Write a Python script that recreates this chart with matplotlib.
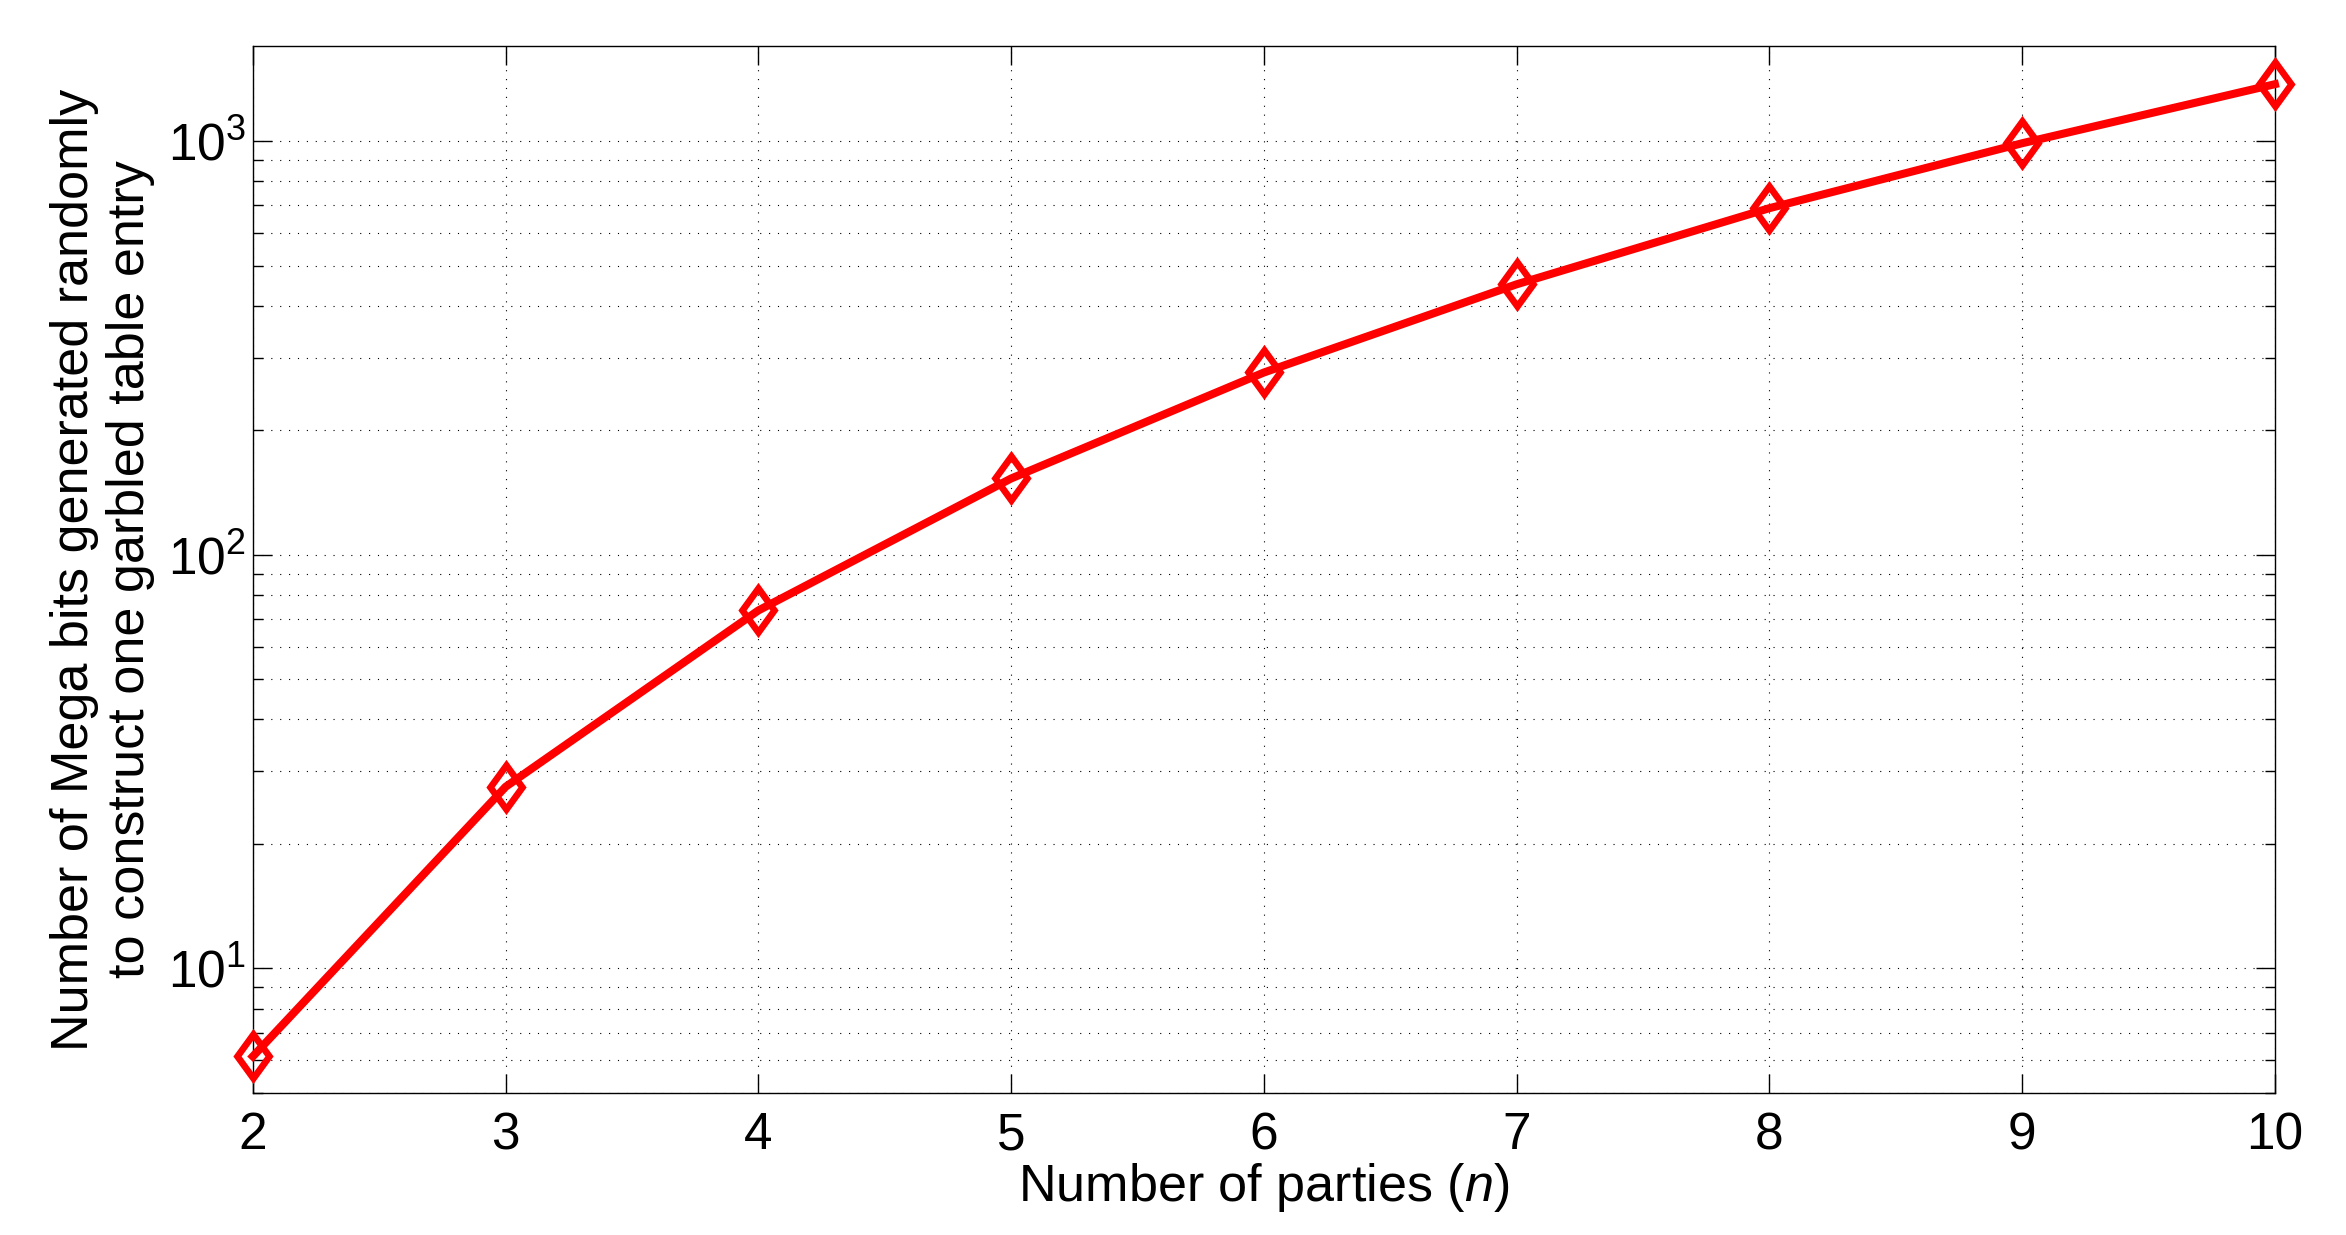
#!/usr/bin/env python3
"""Random bits needed per garbled table entry vs. number of parties (log scale)."""

import matplotlib
matplotlib.use('Agg')
import matplotlib.pyplot as plt
from matplotlib.markers import MarkerStyle
from matplotlib.transforms import Affine2D
from matplotlib.ticker import LogLocator, NullFormatter

parties   = [2, 3, 4, 5, 6, 7, 8, 9, 10]
mega_bits = [6.13, 27.5, 73.4, 153, 276, 451, 689, 989, 1374]
x_ticks   = [2, 3, 4, 5, 6, 7, 8, 9, 10]

plt.rcParams['font.family'] = ['Liberation Sans', 'DejaVu Sans']
plt.rcParams['mathtext.fontset'] = 'custom'
plt.rcParams['mathtext.rm'] = 'Liberation Sans'
plt.rcParams['mathtext.it'] = 'Liberation Sans:italic'

fig = plt.figure(figsize=(23.46, 12.35), dpi=100)
ax = fig.add_axes([0.1078, 0.1150, 0.8619, 0.8478])

diamond = MarkerStyle('D', transform=Affine2D().scale(0.72, 1.0))
ax.plot(parties, mega_bits, color='red', linewidth=5.8, marker=diamond,
        markersize=22.5, markerfacecolor='none', markeredgecolor='red',
        markeredgewidth=4.8, clip_on=False, zorder=3)

ax.set_yscale('log')
ax.set_xlim(2, 10)
ax.set_ylim(5.0, 1700)
ax.set_xticks(x_ticks)
ax.yaxis.set_major_locator(LogLocator(base=10, numticks=10))
ax.yaxis.set_minor_locator(LogLocator(base=10, subs=range(2, 10), numticks=20))
ax.yaxis.set_minor_formatter(NullFormatter())

# MATLAB-like dotted grid
dots = (0, (1, 7))
ax.grid(which='major', axis='both', color='black', linestyle=dots, linewidth=0.8)
ax.grid(which='minor', axis='y', color='black', linestyle=dots, linewidth=0.8)

ax.tick_params(which='major', direction='in', length=14, width=1.0,
               top=True, right=True, labelsize=37)
ax.tick_params(which='minor', direction='in', length=7, width=1.0,
               top=True, right=True)
ax.tick_params(axis='x', which='major', pad=13)
ax.tick_params(axis='y', which='major', pad=5)
for sp in ax.spines.values():
    sp.set_linewidth(1.0)

ax.set_xlabel('Number of parties ($\\mathit{n}$)', fontsize=37.5, labelpad=1)
ax.set_ylabel('Number of Mega bits generated randomly\nto construct one garbled table entry',
              fontsize=37.5, labelpad=9)

fig.savefig('out.png', dpi=100, facecolor='white')
